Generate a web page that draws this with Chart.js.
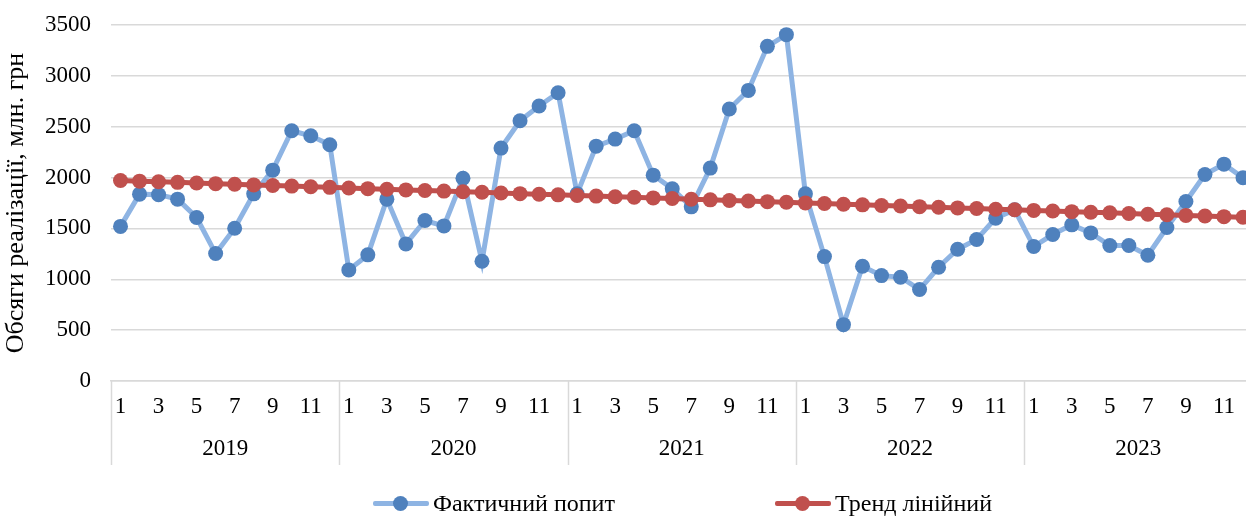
<!DOCTYPE html>
<html>
<head>
<meta charset="utf-8">
<script src="https://cdn.jsdelivr.net/npm/chart.js@4.4.1/dist/chart.umd.min.js"></script>
<style>
  html, body { margin: 0; padding: 0; background: #fff; overflow: hidden; }
  #wrap { position: relative; width: 1260px; height: 516px; }
  #legend { position: absolute; left: 0; top: 490px; width: 1246px; height: 26px; font-family: "Liberation Serif", "Times New Roman", serif; font-size: 24px; color: #000; }
  .item { position: absolute; top: 0; height: 26px; display: flex; align-items: center; }
  .icon { position: relative; width: 56px; height: 26px; margin-right: 4px; }
  .icon .ln { position: absolute; left: 0; right: 0; top: 11px; height: 5px; border-radius: 2px; }
  .icon .pt { position: absolute; left: 20px; top: 6px; width: 15px; height: 15px; border-radius: 50%; }
</style>
</head>
<body>
<div id="wrap">
  <canvas id="c"></canvas>
  <div id="legend">
    <div class="item" style="left:373px"><div class="icon"><div class="ln" style="background:#8eb4e3"></div><div class="pt" style="background:#4f81bd"></div></div><span>Фактичний попит</span></div>
    <div class="item" style="left:775px"><div class="icon"><div class="ln" style="background:#c0504d"></div><div class="pt" style="background:#c0504d"></div></div><span>Тренд лінійний</span></div>
  </div>
</div>
<script>
const years = ['2019', '2020', '2021', '2022', '2023'];
const months = ['1','2','3','4','5','6','7','8','9','10','11','12'];
const yTicks = [0, 500, 1000, 1500, 2000, 2500, 3000, 3500];
const yTitle = 'Обсяги реалізації, млн. грн';
const seriesNames = ['Фактичний попит', 'Тренд лінійний'];

const actual = [
  1520, 1837, 1832, 1788, 1607, 1253, 1502, 1840, 2073, 2460, 2411, 2323,
  1092, 1240, 1788, 1348, 1578, 1525, 1994, 1177, 2290, 2559, 2703, 2834,
  1840, 2309, 2378, 2460, 2024, 1890, 1712, 2093, 2674, 2857, 3290, 3405,
  1840, 1223,  554, 1128, 1036, 1020,  899, 1118, 1295, 1391, 1601, 1683,
  1322, 1440, 1535, 1456, 1332, 1332, 1236, 1509, 1765, 2030, 2132, 1998
];
const trend = [
  1971, 1965, 1959, 1953, 1947, 1940, 1934, 1928, 1922, 1916, 1910, 1904,
  1898, 1891, 1885, 1879, 1873, 1867, 1861, 1855, 1849, 1842, 1836, 1830,
  1824, 1818, 1812, 1806, 1800, 1794, 1787, 1781, 1775, 1769, 1763, 1757,
  1751, 1745, 1738, 1732, 1726, 1720, 1714, 1708, 1702, 1696, 1689, 1683,
  1677, 1671, 1665, 1659, 1653, 1647, 1640, 1634, 1628, 1622, 1616, 1610
];

const categories = [];
years.forEach(y => months.forEach(m => categories.push(m)));

const FONT = "'Liberation Serif', 'Times New Roman', serif";
const GRID = '#d9d9d9';

const separators = {
  id: 'separators',
  afterDraw(chart) {
    const x = chart.scales.x, x2 = chart.scales.x2;
    const ctx = chart.ctx;
    const half = (x.getPixelForValue(1) - x.getPixelForValue(0)) / 2;
    ctx.save();
    ctx.strokeStyle = GRID;
    ctx.lineWidth = 1.5;
    for (let k = 0; k <= years.length; k++) {
      const px = Math.round(x.getPixelForValue(k * months.length) - half) + 0.5;
      ctx.beginPath();
      ctx.moveTo(px, chart.chartArea.bottom);
      ctx.lineTo(px, x2.bottom);
      ctx.stroke();
    }
    ctx.restore();
  }
};

new Chart(document.getElementById('c'), {
  type: 'line',
  data: {
    labels: categories,
    datasets: [
      {
        label: seriesNames[1],
        data: trend,
        borderColor: '#c0504d',
        backgroundColor: '#c0504d',
        borderWidth: 5,
        pointRadius: 7.5,
        pointBorderWidth: 0,
        pointBackgroundColor: '#c0504d',
        tension: 0,
        order: 0
      },
      {
        label: seriesNames[0],
        data: actual,
        borderColor: '#8eb4e3',
        backgroundColor: '#4f81bd',
        borderWidth: 5,
        pointRadius: 7.5,
        pointBorderWidth: 0,
        pointBackgroundColor: '#4f81bd',
        tension: 0,
        order: 1
      }
    ]
  },
  options: {
    responsive: true,
    maintainAspectRatio: false,
    animation: false,
    layout: { padding: { top: 25, left: 0, right: 4, bottom: 51 } },
    plugins: { legend: { display: false }, tooltip: { enabled: false } },
    scales: {
      y: {
        min: 0, max: 3500,
        afterBuildTicks: s => { s.ticks = yTicks.map(v => ({ value: v })); },
        afterFit: s => { s.width = 111; s.paddingTop = 0; s.paddingBottom = 0; },
        ticks: { font: { family: FONT, size: 23 }, color: '#000', padding: 20, callback: v => String(v) },
        grid: { color: GRID, lineWidth: 1.5, drawTicks: false },
        border: { display: false },
        title: { display: true, text: yTitle, font: { family: FONT, size: 26 }, color: '#000', padding: { top: 1, bottom: 0 } }
      },
      x: {
        type: 'category',
        offset: true,
        afterFit: s => { s.height = 52; },
        ticks: {
          autoSkip: false, maxRotation: 0, minRotation: 0,
          font: { family: FONT, size: 23 }, color: '#000', padding: 12,
          callback: function (value, index) { return index % 2 === 0 ? this.getLabelForValue(value) : ''; }
        },
        grid: { display: false, drawTicks: false },
        border: { display: true, color: GRID, width: 1.5 }
      },
      x2: {
        type: 'category',
        position: 'bottom',
        labels: years,
        offset: true,
        afterFit: s => { s.height = 32; },
        ticks: { autoSkip: false, maxRotation: 0, font: { family: FONT, size: 23 }, color: '#000', padding: 2 },
        grid: { display: false, drawTicks: false },
        border: { display: false }
      }
    }
  },
  plugins: [separators]
});
</script>
</body>
</html>
